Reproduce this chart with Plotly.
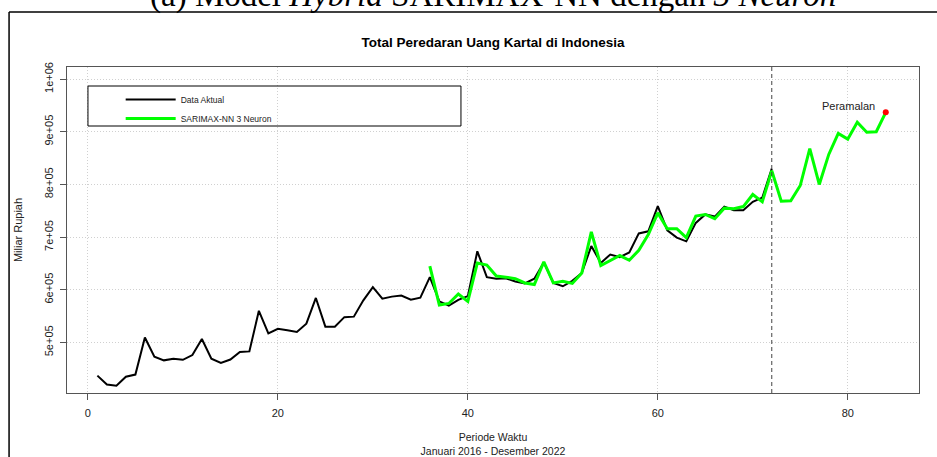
import plotly.graph_objects as go

# ---- data ----
t_actual = list(range(1, 73))
actual = [437000, 420000, 418000, 435000, 439000, 509500, 473000, 466000, 469000, 467000,
          476000, 506500, 469000, 461000, 467600, 482000, 483000, 560000, 517000, 526000,
          523000, 520000, 535600, 584500, 530000, 530000, 548000, 549000, 580000, 605000,
          583000, 587000, 589000, 581000, 585000, 624000, 578000, 570000, 581000, 588000,
          673000, 624000, 621000, 622000, 615600, 612000, 621000, 652000, 613000, 606700,
          617000, 632000, 683000, 651000, 667000, 662000, 671000, 707000, 711000, 759000,
          713000, 699000, 692000, 727000, 743000, 739000, 758000, 751000, 751000, 767000,
          775000, 830000]

t_model = list(range(36, 85))
model = [645000, 571000, 574000, 592000, 578000, 651000, 647000, 626000, 624000, 621000,
         613000, 610000, 653000, 613000, 616000, 612000, 632000, 710000, 646000, 655000,
         665000, 656000, 675000, 705000, 746000, 716000, 716000, 699000, 740000, 743000,
         735000, 755000, 754000, 758000, 781000, 767000, 826000, 768000, 769000, 798000,
         868000, 800000, 857000, 897000, 886000, 918000, 899000, 900000, 937000]

x_ticks = [0, 20, 40, 60, 80]
y_ticks = [500000, 600000, 700000, 800000, 900000, 1000000]
y_ticktext = ["5e+05", "6e+05", "7e+05", "8e+05", "9e+05", "1e+06"]

split_t = t_actual[-1]

FONT = "Liberation Sans, Arial, sans-serif"
TXT = "#222222"
GRID = "#d0d0d0"
GRID_DASH = "1px,2px"

fig = go.Figure()
fig.add_trace(go.Scatter(x=t_actual, y=actual, mode="lines", name="Data Aktual",
                         line=dict(color="black", width=2)))
fig.add_trace(go.Scatter(x=t_model, y=model, mode="lines", name="SARIMAX-NN 3 Neuron",
                         line=dict(color="#00ff00", width=3)))
fig.add_trace(go.Scatter(x=[t_model[-1]], y=[model[-1]], mode="markers", showlegend=False,
                         marker=dict(color="red", size=6)))

fig.add_shape(type="line", xref="x", yref="paper", x0=split_t, x1=split_t, y0=0, y1=1,
              line=dict(color="#444444", width=1, dash="4px,3px"))

fig.add_annotation(x=t_model[-1], y=model[-1], xref="x", yref="y", text="Peramalan",
                   showarrow=False, xanchor="right", yanchor="middle", xshift=-9, yshift=6,
                   font=dict(family=FONT, size=11, color=TXT))

# legend box (R style)
fig.add_shape(type="rect", xref="paper", yref="paper", x0=0.0246, x1=0.4624, y0=0.819, y1=0.9417,
              line=dict(color="black", width=1), fillcolor="rgba(0,0,0,0)", layer="above")

# outer frame (top and left edges visible)
fig.add_shape(type="line", xref="paper", yref="paper", x0=-0.068, x1=1.05, y0=1.1687, y1=1.1687,
              line=dict(color="black", width=1.5))
fig.add_shape(type="line", xref="paper", yref="paper", x0=-0.068, x1=-0.068, y0=1.1687, y1=-0.25,
              line=dict(color="black", width=1.5))

# cut-off caption above the frame
fig.add_annotation(xref="paper", yref="paper", x=0.5, y=1.2205, xanchor="center", yanchor="middle",
                   showarrow=False,
                   text="(a) Model <i>Hybrid</i> SARIMAX-NN dengan <i>3 Neuron</i>",
                   font=dict(family="Liberation Serif, Times New Roman, serif", size=33, color="black"))

fig.update_layout(
    width=937, height=457,
    margin=dict(l=67, r=18, t=67, b=64, autoexpand=False),
    paper_bgcolor="white", plot_bgcolor="white",
    font=dict(family=FONT, size=11, color=TXT),
    title=dict(text="<b>Total Peredaran Uang Kartal di Indonesia</b>", x=0.5, xref="paper",
               xanchor="center", y=1 - 42 / 457, yref="container", yanchor="middle",
               font=dict(family=FONT, size=13.5, color="black")),
    showlegend=True,
    legend=dict(x=0.063, y=0.945, xref="paper", yref="paper", xanchor="left", yanchor="top",
                bgcolor="rgba(0,0,0,0)", borderwidth=0, itemwidth=50,
                font=dict(family=FONT, size=8.5, color=TXT)),
    xaxis=dict(range=[-2.2, 87.5], tickvals=x_ticks, ticks="outside", ticklen=6, automargin=False,
               tickcolor="#555555", showline=True, mirror=True, linecolor="#555555", linewidth=1,
               showgrid=True, gridcolor=GRID, griddash=GRID_DASH, gridwidth=1, zeroline=False,
               ticklabelstandoff=4,
               tickfont=dict(size=11, color=TXT),
               title=dict(text="Periode Waktu<br>Januari 2016 - Desember 2022",
                          font=dict(size=10.5, color=TXT), standoff=22)),
    yaxis=dict(range=[404000, 1023000], tickvals=y_ticks, ticktext=y_ticktext, tickangle=-90,
               ticks="outside", ticklen=6, tickcolor="#555555", showline=True, mirror=True,
               automargin=False,
               linecolor="#555555", linewidth=1, showgrid=True, gridcolor=GRID,
               griddash=GRID_DASH, gridwidth=1, zeroline=False, ticklabelstandoff=3,
               tickfont=dict(size=11, color=TXT),
               title=dict(text="Miliar Rupiah", font=dict(size=11, color=TXT), standoff=17)),
)

fig.write_html("out.html")
